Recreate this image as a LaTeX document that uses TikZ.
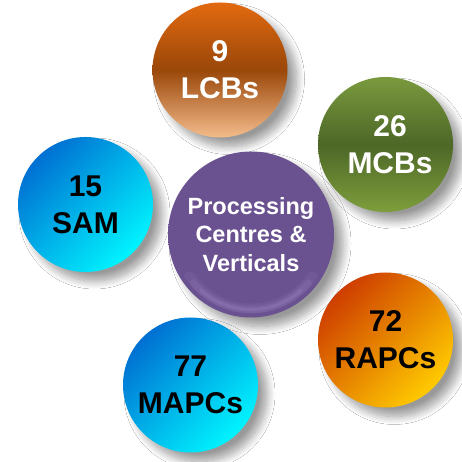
\documentclass[tikz,border=0pt]{standalone}
\usepackage{fontspec}
\setmainfont{Liberation Sans}
\usetikzlibrary{shadows.blur}
\definecolor{lcbTop}{HTML}{E26A10}
\definecolor{lcbMid}{HTML}{9A4709}
\definecolor{lcbBot}{HTML}{F4BC8C}
\definecolor{mcbTop}{HTML}{7A9A3E}
\definecolor{mcbMid}{HTML}{4D6727}
\definecolor{mcbBot}{HTML}{7E9E3C}
\definecolor{blueA}{HTML}{0070D2}
\definecolor{blueB}{HTML}{00F4FF}
\definecolor{redA}{HTML}{CE3E00}
\definecolor{yelB}{HTML}{FFCA00}
\definecolor{purpA}{HTML}{6A5190}
\definecolor{purpD}{HTML}{4E3A6E}
\definecolor{purpB}{HTML}{34244C}
\definecolor{purpL}{HTML}{A892CC}
\pgfdeclareradialshading{purpball}{\pgfpoint{0bp}{0bp}}{color(0bp)=(purpA); color(41bp)=(purpA); color(47bp)=(purpD); color(50bp)=(purpB)}
\tikzset{
  softshadow/.style={blur shadow={shadow xshift=9pt, shadow yshift=-9pt, shadow blur radius=8pt, shadow blur steps=12, shadow opacity=40}},
  bubble/.style={circle, inner sep=0pt, minimum size=135pt, align=center,
    font=\fontsize{30}{37}\selectfont\bfseries, softshadow},
  brownball/.style={bubble, top color=lcbTop, bottom color=lcbBot, middle color=lcbMid, text=white},
  greenball/.style={bubble, top color=mcbTop, bottom color=mcbBot, middle color=mcbMid, text=white},
  cyanball/.style={bubble, top color=blueA, bottom color=blueB, shading angle=45, text=black},
  amberball/.style={bubble, top color=redA, bottom color=yelB, shading angle=45, text=black},
  hubball/.style={circle, inner sep=0pt, minimum size=166pt, align=center, shading=purpball,
    font=\fontsize{23.5}{28.5}\selectfont\bfseries, text=white, softshadow},
  glow/.style={purpL, line cap=round}
}
\begin{document}
\begin{tikzpicture}[x=1pt,y=1pt]
\useasboundingbox[fill=white] (0,0) rectangle (462,462);
\node[brownball] (lcb) at (220,392) {9\\LCBs};
\node[greenball] (mcb) at (385.5,317.5) {\hspace{9pt}26\\\hspace{9pt}MCBs};
\node[cyanball] (sam) at (85.5,257.5) {15\\SAM};
\node[amberball] (rapc) at (385.5,122) {72\\RAPCs};
\node[cyanball] (mapc) at (190.5,77) {77\\MAPCs};
\node[hubball] (hub) at (251,227.5) {};
\begin{scope}
  \clip (hub.center) circle[radius=79];
  \draw[glow, line width=12pt, opacity=0.12] (hub.center) ++(215:75) arc[start angle=215, end angle=325, radius=75];
  \draw[glow, line width=7pt, opacity=0.18] (hub.center) ++(220:75) arc[start angle=220, end angle=320, radius=75];
  \draw[glow, line width=3pt, opacity=0.22] (hub.center) ++(228:75) arc[start angle=228, end angle=312, radius=75];
\end{scope}
\node[align=center, font=\fontsize{23.5}{28.5}\selectfont\bfseries, text=white] (hubtext) at (hub.center) {Processing\\Centres \&\\Verticals};
\end{tikzpicture}
\end{document}
